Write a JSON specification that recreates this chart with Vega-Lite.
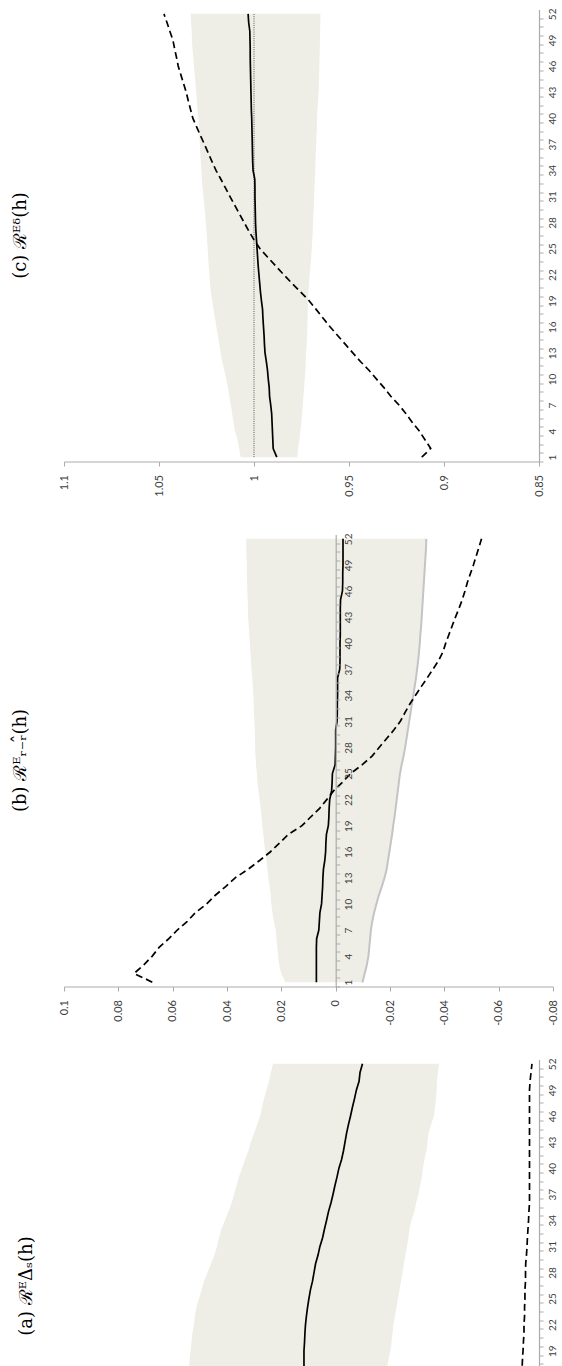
{
  "$schema": "https://vega.github.io/schema/vega-lite/v6.json",
  "padding": {"left": 11, "top": 7.5, "right": 0, "bottom": 0},
  "spacing": 73,
  "bounds": "flush",
  "config": {
    "view": {"stroke": null},
    "axis": {"domainColor": "#ABABAB", "domainWidth": 1.2, "tickColor": "#ABABAB", "tickWidth": 1, "labelFont": "Lato", "labelColor": "#404040", "grid": false, "labelOverlap": false, "labelFlush": false, "labelBound": false},
    "axisX": {"labelAngle": -90, "labelAlign": "right", "labelBaseline": "middle", "tickSize": 4.5, "labelPadding": 8.5, "labelFontSize": 11},
    "axisY": {"labelAngle": -90, "labelAlign": "center", "labelBaseline": "top", "tickSize": 4, "labelPadding": 4, "labelFontSize": 10, "tickOffset": 4.35, "labelOffset": -4.35},
    "title": {"font": "DejaVu Serif", "fontSize": 18, "fontWeight": "normal", "color": "#000000", "orient": "left", "anchor": "middle", "offset": 28}
  },
  "datasets": {
    "c": [
      {"h":1,"hi":1.0070,"lo":0.9772,"solid":0.9880,"dashed":0.9117},
      {"h":2,"hi":1.0078,"lo":0.9768,"solid":0.9899,"dashed":0.9070},
      {"h":3,"hi":1.0087,"lo":0.9761,"solid":0.9901,"dashed":0.9100},
      {"h":4,"hi":1.0100,"lo":0.9756,"solid":0.9903,"dashed":0.9130},
      {"h":5,"hi":1.0107,"lo":0.9751,"solid":0.9905,"dashed":0.9167},
      {"h":6,"hi":1.0115,"lo":0.9747,"solid":0.9907,"dashed":0.9200},
      {"h":7,"hi":1.0122,"lo":0.9743,"solid":0.9912,"dashed":0.9237},
      {"h":8,"hi":1.0130,"lo":0.9740,"solid":0.9918,"dashed":0.9280},
      {"h":9,"hi":1.0137,"lo":0.9736,"solid":0.9920,"dashed":0.9316},
      {"h":10,"hi":1.0146,"lo":0.9733,"solid":0.9925,"dashed":0.9356},
      {"h":11,"hi":1.0156,"lo":0.9729,"solid":0.9929,"dashed":0.9395},
      {"h":12,"hi":1.0168,"lo":0.9728,"solid":0.9935,"dashed":0.9440},
      {"h":13,"hi":1.0176,"lo":0.9726,"solid":0.9942,"dashed":0.9480},
      {"h":14,"hi":1.0183,"lo":0.9723,"solid":0.9945,"dashed":0.9520},
      {"h":15,"hi":1.0190,"lo":0.9720,"solid":0.9947,"dashed":0.9560},
      {"h":16,"hi":1.0198,"lo":0.9719,"solid":0.9950,"dashed":0.9600},
      {"h":17,"hi":1.0205,"lo":0.9718,"solid":0.9953,"dashed":0.9637},
      {"h":18,"hi":1.0213,"lo":0.9717,"solid":0.9955,"dashed":0.9673},
      {"h":19,"hi":1.0220,"lo":0.9716,"solid":0.9961,"dashed":0.9710},
      {"h":20,"hi":1.0227,"lo":0.9713,"solid":0.9966,"dashed":0.9755},
      {"h":21,"hi":1.0231,"lo":0.9710,"solid":0.9970,"dashed":0.9800},
      {"h":22,"hi":1.0235,"lo":0.9707,"solid":0.9974,"dashed":0.9844},
      {"h":23,"hi":1.0238,"lo":0.9703,"solid":0.9978,"dashed":0.9886},
      {"h":24,"hi":1.0241,"lo":0.9699,"solid":0.9981,"dashed":0.9928},
      {"h":25,"hi":1.0244,"lo":0.9696,"solid":0.9984,"dashed":0.9969},
      {"h":26,"hi":1.0247,"lo":0.9693,"solid":0.9987,"dashed":1.0000},
      {"h":27,"hi":1.0250,"lo":0.9691,"solid":0.9990,"dashed":1.0027},
      {"h":28,"hi":1.0254,"lo":0.9689,"solid":0.9992,"dashed":1.0052},
      {"h":29,"hi":1.0257,"lo":0.9687,"solid":0.9993,"dashed":1.0077},
      {"h":30,"hi":1.0262,"lo":0.9685,"solid":0.9994,"dashed":1.0102},
      {"h":31,"hi":1.0266,"lo":0.9684,"solid":0.9995,"dashed":1.0127},
      {"h":32,"hi":1.0271,"lo":0.9682,"solid":0.9995,"dashed":1.0151},
      {"h":33,"hi":1.0275,"lo":0.9680,"solid":0.9996,"dashed":1.0175},
      {"h":34,"hi":1.0277,"lo":0.9678,"solid":1.0005,"dashed":1.0200},
      {"h":35,"hi":1.0280,"lo":0.9676,"solid":1.0007,"dashed":1.0221},
      {"h":36,"hi":1.0283,"lo":0.9675,"solid":1.0008,"dashed":1.0241},
      {"h":37,"hi":1.0285,"lo":0.9673,"solid":1.0009,"dashed":1.0261},
      {"h":38,"hi":1.0288,"lo":0.9671,"solid":1.0010,"dashed":1.0282},
      {"h":39,"hi":1.0290,"lo":0.9669,"solid":1.0011,"dashed":1.0302},
      {"h":40,"hi":1.0293,"lo":0.9668,"solid":1.0012,"dashed":1.0322},
      {"h":41,"hi":1.0297,"lo":0.9666,"solid":1.0014,"dashed":1.0334},
      {"h":42,"hi":1.0301,"lo":0.9662,"solid":1.0015,"dashed":1.0346},
      {"h":43,"hi":1.0304,"lo":0.9660,"solid":1.0016,"dashed":1.0357},
      {"h":44,"hi":1.0308,"lo":0.9658,"solid":1.0017,"dashed":1.0371},
      {"h":45,"hi":1.0312,"lo":0.9657,"solid":1.0018,"dashed":1.0385},
      {"h":46,"hi":1.0316,"lo":0.9656,"solid":1.0019,"dashed":1.0399},
      {"h":47,"hi":1.0320,"lo":0.9655,"solid":1.0020,"dashed":1.0408},
      {"h":48,"hi":1.0324,"lo":0.9654,"solid":1.0020,"dashed":1.0418},
      {"h":49,"hi":1.0326,"lo":0.9653,"solid":1.0021,"dashed":1.0427},
      {"h":50,"hi":1.0328,"lo":0.9652,"solid":1.0022,"dashed":1.0443},
      {"h":51,"hi":1.0331,"lo":0.9651,"solid":1.0028,"dashed":1.0458},
      {"h":52,"hi":1.0333,"lo":0.9650,"solid":1.0031,"dashed":1.0474}
    ],
    "b": [
      {"h":1,"hi":0.0185,"lo":-0.0095,"solid":0.0071,"dashed":0.0675},
      {"h":2,"hi":0.0200,"lo":-0.0103,"solid":0.0071,"dashed":0.0742},
      {"h":3,"hi":0.0208,"lo":-0.0111,"solid":0.0071,"dashed":0.0706},
      {"h":4,"hi":0.0212,"lo":-0.0117,"solid":0.0071,"dashed":0.0675},
      {"h":5,"hi":0.0215,"lo":-0.0120,"solid":0.0071,"dashed":0.0650},
      {"h":6,"hi":0.0218,"lo":-0.0123,"solid":0.0070,"dashed":0.0614},
      {"h":7,"hi":0.0221,"lo":-0.0126,"solid":0.0062,"dashed":0.0583},
      {"h":8,"hi":0.0227,"lo":-0.0131,"solid":0.0060,"dashed":0.0546},
      {"h":9,"hi":0.0233,"lo":-0.0138,"solid":0.0058,"dashed":0.0516},
      {"h":10,"hi":0.0237,"lo":-0.0146,"solid":0.0052,"dashed":0.0475},
      {"h":11,"hi":0.0239,"lo":-0.0155,"solid":0.0050,"dashed":0.0443},
      {"h":12,"hi":0.0243,"lo":-0.0166,"solid":0.0048,"dashed":0.0405},
      {"h":13,"hi":0.0248,"lo":-0.0176,"solid":0.0047,"dashed":0.0370},
      {"h":14,"hi":0.0251,"lo":-0.0184,"solid":0.0045,"dashed":0.0322},
      {"h":15,"hi":0.0255,"lo":-0.0189,"solid":0.0040,"dashed":0.0280},
      {"h":16,"hi":0.0259,"lo":-0.0194,"solid":0.0037,"dashed":0.0240},
      {"h":17,"hi":0.0263,"lo":-0.0199,"solid":0.0036,"dashed":0.0207},
      {"h":18,"hi":0.0266,"lo":-0.0204,"solid":0.0034,"dashed":0.0174},
      {"h":19,"hi":0.0270,"lo":-0.0208,"solid":0.0027,"dashed":0.0124},
      {"h":20,"hi":0.0273,"lo":-0.0213,"solid":0.0025,"dashed":0.0092},
      {"h":21,"hi":0.0276,"lo":-0.0217,"solid":0.0024,"dashed":0.0059},
      {"h":22,"hi":0.0280,"lo":-0.0221,"solid":0.0022,"dashed":0.0033},
      {"h":23,"hi":0.0284,"lo":-0.0225,"solid":0.0015,"dashed":0.0008},
      {"h":24,"hi":0.0288,"lo":-0.0229,"solid":0.0013,"dashed":-0.0025},
      {"h":25,"hi":0.0290,"lo":-0.0233,"solid":0.0012,"dashed":-0.0055},
      {"h":26,"hi":0.0293,"lo":-0.0239,"solid":0.0002,"dashed":-0.0097},
      {"h":27,"hi":0.0295,"lo":-0.0246,"solid":0.0001,"dashed":-0.0134},
      {"h":28,"hi":0.0296,"lo":-0.0252,"solid":0.0000,"dashed":-0.0160},
      {"h":29,"hi":0.0297,"lo":-0.0257,"solid":0.0000,"dashed":-0.0187},
      {"h":30,"hi":0.0298,"lo":-0.0262,"solid":0.0000,"dashed":-0.0214},
      {"h":31,"hi":0.0299,"lo":-0.0267,"solid":-0.0005,"dashed":-0.0238},
      {"h":32,"hi":0.0301,"lo":-0.0272,"solid":-0.0006,"dashed":-0.0255},
      {"h":33,"hi":0.0302,"lo":-0.0277,"solid":-0.0006,"dashed":-0.0273},
      {"h":34,"hi":0.0303,"lo":-0.0282,"solid":-0.0007,"dashed":-0.0294},
      {"h":35,"hi":0.0305,"lo":-0.0287,"solid":-0.0007,"dashed":-0.0315},
      {"h":36,"hi":0.0307,"lo":-0.0292,"solid":-0.0007,"dashed":-0.0337},
      {"h":37,"hi":0.0310,"lo":-0.0296,"solid":-0.0015,"dashed":-0.0358},
      {"h":38,"hi":0.0312,"lo":-0.0300,"solid":-0.0016,"dashed":-0.0379},
      {"h":39,"hi":0.0314,"lo":-0.0303,"solid":-0.0016,"dashed":-0.0395},
      {"h":40,"hi":0.0316,"lo":-0.0306,"solid":-0.0016,"dashed":-0.0405},
      {"h":41,"hi":0.0318,"lo":-0.0308,"solid":-0.0017,"dashed":-0.0417},
      {"h":42,"hi":0.0320,"lo":-0.0311,"solid":-0.0017,"dashed":-0.0429},
      {"h":43,"hi":0.0322,"lo":-0.0313,"solid":-0.0017,"dashed":-0.0441},
      {"h":44,"hi":0.0323,"lo":-0.0315,"solid":-0.0017,"dashed":-0.0454},
      {"h":45,"hi":0.0324,"lo":-0.0317,"solid":-0.0018,"dashed":-0.0466},
      {"h":46,"hi":0.0325,"lo":-0.0319,"solid":-0.0025,"dashed":-0.0476},
      {"h":47,"hi":0.0326,"lo":-0.0321,"solid":-0.0026,"dashed":-0.0485},
      {"h":48,"hi":0.0327,"lo":-0.0323,"solid":-0.0026,"dashed":-0.0496},
      {"h":49,"hi":0.0327,"lo":-0.0325,"solid":-0.0027,"dashed":-0.0507},
      {"h":50,"hi":0.0328,"lo":-0.0327,"solid":-0.0027,"dashed":-0.0517},
      {"h":51,"hi":0.0329,"lo":-0.0329,"solid":-0.0027,"dashed":-0.0527},
      {"h":52,"hi":0.0329,"lo":-0.0330,"solid":-0.0027,"dashed":-0.0537}
    ],
    "a": [
      {"h":16,"hi":1.0345,"lo":0.9305,"solid":0.9737,"dashed":0.8592},
      {"h":17,"hi":1.0342,"lo":0.9300,"solid":0.9737,"dashed":0.8589},
      {"h":18,"hi":1.0339,"lo":0.9292,"solid":0.9737,"dashed":0.8587},
      {"h":19,"hi":1.0334,"lo":0.9282,"solid":0.9737,"dashed":0.8584},
      {"h":20,"hi":1.0329,"lo":0.9276,"solid":0.9734,"dashed":0.8582},
      {"h":21,"hi":1.0324,"lo":0.9271,"solid":0.9732,"dashed":0.8579},
      {"h":22,"hi":1.0316,"lo":0.9266,"solid":0.9729,"dashed":0.8579},
      {"h":23,"hi":1.0311,"lo":0.9258,"solid":0.9724,"dashed":0.8576},
      {"h":24,"hi":1.0303,"lo":0.9250,"solid":0.9718,"dashed":0.8576},
      {"h":25,"hi":1.0289,"lo":0.9242,"solid":0.9711,"dashed":0.8574},
      {"h":26,"hi":1.0276,"lo":0.9234,"solid":0.9703,"dashed":0.8574},
      {"h":27,"hi":1.0263,"lo":0.9226,"solid":0.9692,"dashed":0.8571},
      {"h":28,"hi":1.0245,"lo":0.9218,"solid":0.9684,"dashed":0.8571},
      {"h":29,"hi":1.0226,"lo":0.9211,"solid":0.9676,"dashed":0.8570},
      {"h":30,"hi":1.0208,"lo":0.9203,"solid":0.9663,"dashed":0.8566},
      {"h":31,"hi":1.0195,"lo":0.9195,"solid":0.9653,"dashed":0.8563},
      {"h":32,"hi":1.0184,"lo":0.9187,"solid":0.9639,"dashed":0.8561},
      {"h":33,"hi":1.0171,"lo":0.9182,"solid":0.9629,"dashed":0.8558},
      {"h":34,"hi":1.0153,"lo":0.9171,"solid":0.9618,"dashed":0.8555},
      {"h":35,"hi":1.0134,"lo":0.9155,"solid":0.9608,"dashed":0.8553},
      {"h":36,"hi":1.0118,"lo":0.9147,"solid":0.9595,"dashed":0.8550},
      {"h":37,"hi":1.0105,"lo":0.9134,"solid":0.9584,"dashed":0.8550},
      {"h":38,"hi":1.0092,"lo":0.9126,"solid":0.9574,"dashed":0.8550},
      {"h":39,"hi":1.0079,"lo":0.9116,"solid":0.9563,"dashed":0.8550},
      {"h":40,"hi":1.0063,"lo":0.9111,"solid":0.9553,"dashed":0.8550},
      {"h":41,"hi":1.0047,"lo":0.9103,"solid":0.9539,"dashed":0.8550},
      {"h":42,"hi":1.0029,"lo":0.9092,"solid":0.9529,"dashed":0.8550},
      {"h":43,"hi":1.0016,"lo":0.9087,"solid":0.9521,"dashed":0.8550},
      {"h":44,"hi":1.0000,"lo":0.9082,"solid":0.9513,"dashed":0.8550},
      {"h":45,"hi":0.9984,"lo":0.9068,"solid":0.9503,"dashed":0.8550},
      {"h":46,"hi":0.9968,"lo":0.9053,"solid":0.9492,"dashed":0.8550},
      {"h":47,"hi":0.9958,"lo":0.9047,"solid":0.9482,"dashed":0.8550},
      {"h":48,"hi":0.9947,"lo":0.9042,"solid":0.9471,"dashed":0.8550},
      {"h":49,"hi":0.9934,"lo":0.9039,"solid":0.9461,"dashed":0.8550},
      {"h":50,"hi":0.9921,"lo":0.9037,"solid":0.9447,"dashed":0.8547},
      {"h":51,"hi":0.9911,"lo":0.9032,"solid":0.9442,"dashed":0.8542},
      {"h":52,"hi":0.9900,"lo":0.9026,"solid":0.9429,"dashed":0.8537}
    ]
  },
  "vconcat": [
    {
      "width": 475, "height": 452,
      "title": {"text": "(c) ℛᴱᵟ(h)"},
      "data": {"name": "c"},
      "encoding": {
        "y": {"field": "h", "type": "quantitative", "scale": {"domain": [0.5, 52.5], "nice": false, "zero": false},
          "axis": {"orient": "right", "title": null, "values": [1,2,3,4,5,6,7,8,9,10,11,12,13,14,15,16,17,18,19,20,21,22,23,24,25,26,27,28,29,30,31,32,33,34,35,36,37,38,39,40,41,42,43,44,45,46,47,48,49,50,51,52],
            "labelExpr": "(datum.value - 1) % 3 == 0 ? '' + datum.value : ''"}}
      },
      "layer": [
        {"mark": {"type": "area", "color": "#EEEEE6", "opacity": 1},
         "encoding": {"x": {"field": "hi", "type": "quantitative", "scale": {"domain": [0.85, 1.1], "reverse": true, "nice": false, "zero": false}, "axis": {"title": null, "values": [0.85, 0.9, 0.95, 1, 1.05, 1.1], "labelExpr": "'' + datum.value"}},
                      "x2": {"field": "lo"}}},
        {"data": {"values": [{"h": 1, "v": 1}, {"h": 52, "v": 1}]},
         "mark": {"type": "line", "color": "#333333", "strokeWidth": 0.8, "strokeDash": [1, 1.2]},
         "encoding": {"x": {"field": "v", "type": "quantitative", "scale": {"domain": [0.85, 1.1], "reverse": true, "nice": false, "zero": false}, "axis": {"title": null, "values": [0.85, 0.9, 0.95, 1, 1.05, 1.1], "labelExpr": "'' + datum.value"}},
                      "order": {"field": "h", "type": "quantitative"}}},
        {"mark": {"type": "line", "color": "#000000", "strokeWidth": 1.7},
         "encoding": {"x": {"field": "solid", "type": "quantitative", "scale": {"domain": [0.85, 1.1], "reverse": true, "nice": false, "zero": false}, "axis": {"title": null, "values": [0.85, 0.9, 0.95, 1, 1.05, 1.1], "labelExpr": "'' + datum.value"}},
                      "order": {"field": "h", "type": "quantitative"}}},
        {"mark": {"type": "line", "color": "#000000", "strokeWidth": 1.7, "strokeDash": [7, 4]},
         "encoding": {"x": {"field": "dashed", "type": "quantitative", "scale": {"domain": [0.85, 1.1], "reverse": true, "nice": false, "zero": false}, "axis": {"title": null, "values": [0.85, 0.9, 0.95, 1, 1.05, 1.1], "labelExpr": "'' + datum.value"}},
                      "order": {"field": "h", "type": "quantitative"}}}
      ]
    },
    {
      "width": 489, "height": 452,
      "title": {"text": "(b) ℛᴱᵣ₋ᵣ̂(h)"},
      "data": {"name": "b"},
      "encoding": {
        "y": {"field": "h", "type": "quantitative", "scale": {"domain": [0.5, 52.5], "nice": false, "zero": false},
          "axis": {"orient": "right", "title": null, "offset": -217.3, "zindex": 1, "values": [1,2,3,4,5,6,7,8,9,10,11,12,13,14,15,16,17,18,19,20,21,22,23,24,25,26,27,28,29,30,31,32,33,34,35,36,37,38,39,40,41,42,43,44,45,46,47,48,49,50,51,52],
            "labelExpr": "(datum.value - 1) % 3 == 0 ? '' + datum.value : ''"}}
      },
      "layer": [
        {"mark": {"type": "line", "color": "#C4C4C4", "strokeWidth": 4},
         "encoding": {"x": {"field": "lo", "type": "quantitative", "scale": {"domain": [-0.08, 0.1], "reverse": true, "nice": false, "zero": false}, "axis": {"title": null, "values": [-0.08, -0.06, -0.04, -0.02, 0, 0.02, 0.04, 0.06, 0.08, 0.1], "labelExpr": "'' + datum.value"}},
                      "order": {"field": "h", "type": "quantitative"}}},
        {"mark": {"type": "area", "color": "#EEEEE6", "opacity": 1},
         "encoding": {"x": {"field": "hi", "type": "quantitative", "scale": {"domain": [-0.08, 0.1], "reverse": true, "nice": false, "zero": false}, "axis": {"title": null, "values": [-0.08, -0.06, -0.04, -0.02, 0, 0.02, 0.04, 0.06, 0.08, 0.1], "labelExpr": "'' + datum.value"}},
                      "x2": {"field": "lo"}}},
        {"mark": {"type": "line", "color": "#000000", "strokeWidth": 1.7},
         "encoding": {"x": {"field": "solid", "type": "quantitative", "scale": {"domain": [-0.08, 0.1], "reverse": true, "nice": false, "zero": false}, "axis": {"title": null, "values": [-0.08, -0.06, -0.04, -0.02, 0, 0.02, 0.04, 0.06, 0.08, 0.1], "labelExpr": "'' + datum.value"}},
                      "order": {"field": "h", "type": "quantitative"}}},
        {"mark": {"type": "line", "color": "#000000", "strokeWidth": 1.7, "strokeDash": [7, 4]},
         "encoding": {"x": {"field": "dashed", "type": "quantitative", "scale": {"domain": [-0.08, 0.1], "reverse": true, "nice": false, "zero": false}, "axis": {"title": null, "values": [-0.08, -0.06, -0.04, -0.02, 0, 0.02, 0.04, 0.06, 0.08, 0.1], "labelExpr": "'' + datum.value"}},
                      "order": {"field": "h", "type": "quantitative"}}}
      ]
    },
    {
      "width": 475, "height": 307,
      "title": {"text": "(a) ℛᴱΔₛ(h)", "dx": -73},
      "data": {"name": "a"},
      "encoding": {
        "y": {"field": "h", "type": "quantitative", "scale": {"domain": [17.18, 52.5], "nice": false, "zero": false},
          "axis": {"orient": "right", "title": null, "values": [18,19,20,21,22,23,24,25,26,27,28,29,30,31,32,33,34,35,36,37,38,39,40,41,42,43,44,45,46,47,48,49,50,51,52],
            "labelExpr": "(datum.value - 1) % 3 == 0 ? '' + datum.value : ''"}}
      },
      "layer": [
        {"mark": {"type": "area", "color": "#EEEEE6", "opacity": 1, "clip": true},
         "encoding": {"x": {"field": "hi", "type": "quantitative", "scale": {"domain": [0.85, 1.1], "reverse": true, "nice": false, "zero": false}, "axis": null},
                      "x2": {"field": "lo"}}},
        {"mark": {"type": "line", "color": "#000000", "strokeWidth": 1.7, "clip": true},
         "encoding": {"x": {"field": "solid", "type": "quantitative", "scale": {"domain": [0.85, 1.1], "reverse": true, "nice": false, "zero": false}, "axis": null},
                      "order": {"field": "h", "type": "quantitative"}}},
        {"mark": {"type": "line", "color": "#000000", "strokeWidth": 1.7, "strokeDash": [7, 4], "clip": true},
         "encoding": {"x": {"field": "dashed", "type": "quantitative", "scale": {"domain": [0.85, 1.1], "reverse": true, "nice": false, "zero": false}, "axis": null},
                      "order": {"field": "h", "type": "quantitative"}}}
      ]
    }
  ]
}
